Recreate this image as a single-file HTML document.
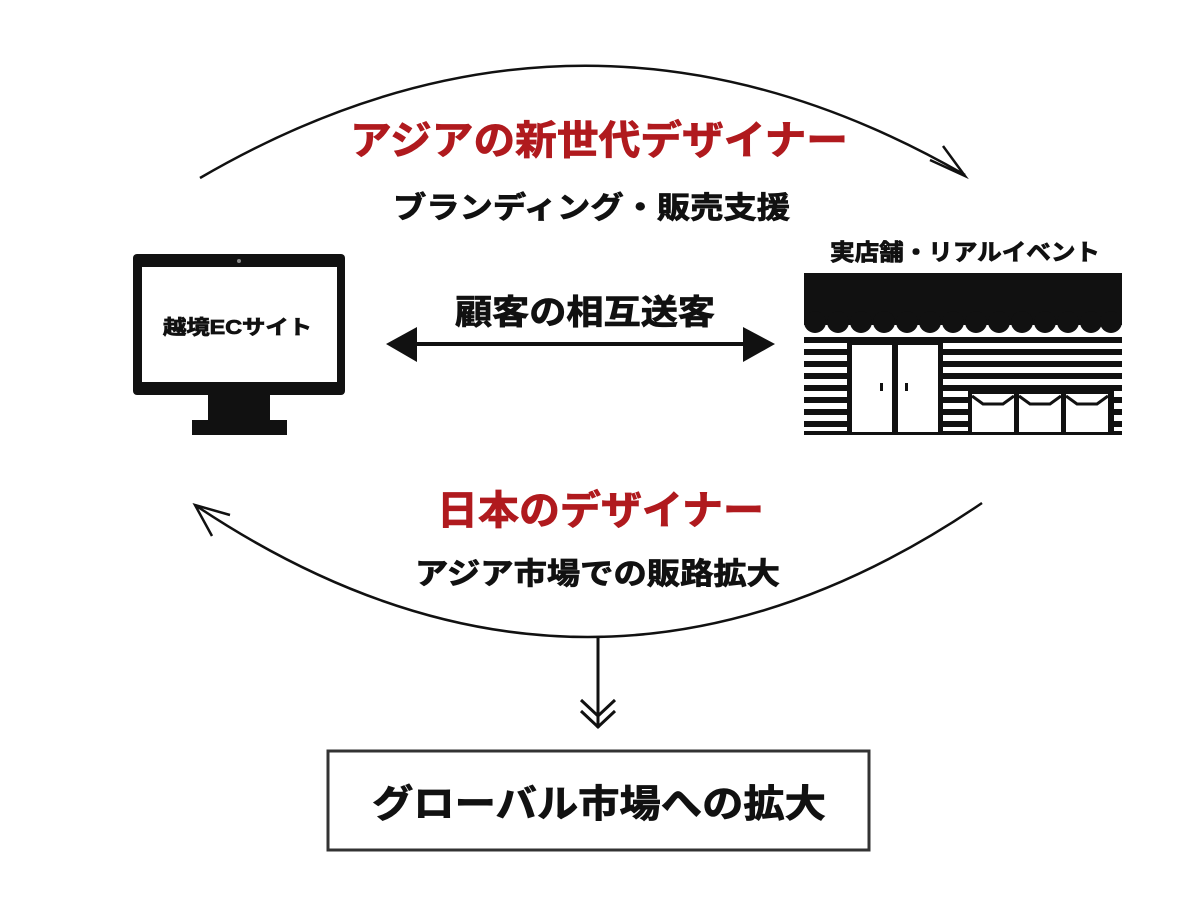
<!DOCTYPE html>
<html><head><meta charset="utf-8"><style>
html,body{margin:0;padding:0;background:#fff;}
svg{display:block}
text{font-family:"Liberation Sans","Noto Sans CJK JP",sans-serif;font-weight:bold;stroke-width:0.8;}
</style></head><body>
<svg width="1200" height="900" viewBox="0 0 1200 900" xmlns="http://www.w3.org/2000/svg">
<path d="M200,178 Q583,-45 965,175" fill="none" stroke="#111" stroke-width="2.5"/>
<path d="M930,160 L965,176 L943,146" fill="none" stroke="#111" stroke-width="2.5"/>
<path d="M982,503 Q590,770 195,505" fill="none" stroke="#111" stroke-width="2.5"/>
<path d="M230,515 L195,505 L212,536" fill="none" stroke="#111" stroke-width="2.5"/>
<line x1="598" y1="636" x2="598" y2="728" stroke="#111" stroke-width="3"/>
<path d="M581,700 L598,716 L615,700 M581,711 L598,727 L615,711" fill="none" stroke="#111" stroke-width="3"/>
<line x1="410" y1="344" x2="752" y2="344" stroke="#111" stroke-width="4"/>
<polygon points="386,344 417,327 417,362" fill="#111"/>
<polygon points="775,344 743,327 743,362" fill="#111"/>
<text x="350" y="154" font-size="40" fill="#b01a1e" stroke="#b01a1e" textLength="498" lengthAdjust="spacingAndGlyphs">アジアの新世代デザイナー</text>
<text x="393" y="218" font-size="30" fill="#111" stroke="#111" textLength="397" lengthAdjust="spacingAndGlyphs">ブランディング・販売支援</text>
<text x="455" y="324" font-size="34" fill="#111" stroke="#111" textLength="260" lengthAdjust="spacingAndGlyphs">顧客の相互送客</text>
<text x="437" y="524" font-size="40" fill="#b01a1e" stroke="#b01a1e" textLength="327" lengthAdjust="spacingAndGlyphs">日本のデザイナー</text>
<text x="415" y="584" font-size="30" fill="#111" stroke="#111" textLength="365" lengthAdjust="spacingAndGlyphs">アジア市場での販路拡大</text>
<text x="830" y="260" font-size="23" fill="#111" stroke="#111" textLength="270" lengthAdjust="spacingAndGlyphs">実店舗・リアルイベント</text>
<rect x="328" y="751" width="541" height="99" fill="#fff" stroke="#333" stroke-width="3"/>
<text x="372" y="817" font-size="38" fill="#111" stroke="#111" textLength="454" lengthAdjust="spacingAndGlyphs">グローバル市場への拡大</text>
<rect x="133" y="254" width="212" height="141" rx="4" fill="#111"/>
<rect x="142" y="267" width="195" height="115" fill="#fff"/>
<circle cx="239" cy="261" r="2" fill="#888"/>
<rect x="208" y="395" width="62" height="27" fill="#111"/>
<rect x="192" y="420" width="95" height="15" fill="#111"/>
<text x="163" y="334" font-size="20" fill="#111" stroke="#111" stroke-width="0.5" textLength="149" lengthAdjust="spacingAndGlyphs">越境ECサイト</text>
<rect x="804" y="273" width="318" height="52" fill="#111"/>
<g fill="#111">
<circle cx="815" cy="322" r="11"/><circle cx="838" cy="322" r="11"/><circle cx="861" cy="322" r="11"/><circle cx="884" cy="322" r="11"/><circle cx="907" cy="322" r="11"/><circle cx="930" cy="322" r="11"/><circle cx="953" cy="322" r="11"/><circle cx="976" cy="322" r="11"/><circle cx="999" cy="322" r="11"/><circle cx="1022" cy="322" r="11"/><circle cx="1045" cy="322" r="11"/><circle cx="1068" cy="322" r="11"/><circle cx="1091" cy="322" r="11"/><circle cx="1111" cy="322" r="11"/>
</g>
<g fill="#111">
<rect x="804" y="337" width="318" height="6"/>
<rect x="804" y="349" width="318" height="6"/>
<rect x="804" y="361" width="318" height="6"/>
<rect x="804" y="373" width="318" height="6"/>
<rect x="804" y="385" width="318" height="6"/>
<rect x="804" y="397" width="318" height="6"/>
<rect x="804" y="409" width="318" height="6"/>
<rect x="804" y="421" width="318" height="6"/>
<rect x="804" y="431" width="318" height="4"/>
</g>
<rect x="847" y="342" width="96" height="93" fill="#111"/>
<rect x="852" y="345" width="40" height="87" fill="#fff"/>
<rect x="898" y="345" width="40" height="87" fill="#fff"/>
<rect x="880" y="383" width="3" height="8" fill="#111"/>
<rect x="905" y="383" width="3" height="8" fill="#111"/>
<rect x="968" y="390" width="146" height="45" fill="#111"/>
<rect x="972" y="394" width="42" height="38" fill="#fff"/>
<rect x="1019" y="394" width="42" height="38" fill="#fff"/>
<rect x="1066" y="394" width="42" height="38" fill="#fff"/>
<path d="M972,396 L983,404 L1003,404 L1014,396 M1019,396 L1030,404 L1050,404 L1061,396 M1066,396 L1077,404 L1097,404 L1108,396" fill="none" stroke="#111" stroke-width="3"/>
</svg>
</body></html>
